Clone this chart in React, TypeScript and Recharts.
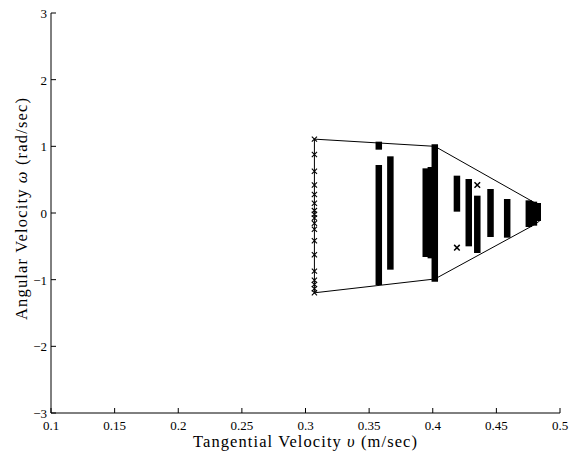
import React from 'react';
import { ScatterChart, Scatter, XAxis, YAxis } from 'recharts';

// Axis ticks
const xTicks = [0.1, 0.15, 0.2, 0.25, 0.3, 0.35, 0.4, 0.45, 0.5];
const yTicks = [-3, -2, -1, 0, 1, 2, 3];

// Dense marker bands (v position, top and bottom of angular velocity)
const barV = [0.3576, 0.3576, 0.3667, 0.3945, 0.3985, 0.4016, 0.419, 0.4283, 0.435, 0.4454, 0.4585, 0.4755, 0.4795, 0.4825];
const barTop = [1.07, 0.72, 0.85, 0.67, 0.69, 1.03, 0.56, 0.51, 0.26, 0.36, 0.21, 0.19, 0.17, 0.15];
const barBottom = [0.95, -1.08, -0.85, -0.66, -0.68, -1.03, 0.02, -0.5, -0.6, -0.36, -0.37, -0.21, -0.19, -0.12];

// Individual markers at v = 0.307
const leftV = 0.307;
const leftW = [1.108, 0.878, 0.627, 0.421, 0.277, 0.146, 0.036, -0.02, -0.075, -0.155, -0.245, -0.415, -0.626, -0.872, -1.008, -1.072, -1.137, -1.197];

// Isolated markers
const extraV = [0.419, 0.435];
const extraW = [-0.52, 0.42];

// Boundary polygon
const hullV = [0.307, 0.4016, 0.48, 0.484, 0.484, 0.478, 0.4016, 0.307, 0.307];
const hullW = [1.108, 1.0, 0.155, 0.1, -0.12, -0.195, -0.99, -1.197, 1.108];

const FONT = '"Liberation Serif", "Times New Roman", serif';

const leftData = leftW.map((w) => ({ v: leftV, w }));
const extraData = extraV.map((v, i) => ({ v, w: extraW[i] }));
const hullData = hullV.map((v, i) => ({ v, w: hullW[i] }));
const bars = barV.map((v, i) => [
  { v, w: barTop[i] },
  { v, w: barBottom[i] },
]);

const fmtNum = (n: number) => {
  const s = String(n);
  return n < 0 ? '\u2212' + s.slice(1) : s;
};

const XTick = (props: any) => {
  const { x, y, payload } = props;
  return (
    <g>
      <line x1={x} x2={x} y1={y} y2={y - 5} stroke="#000" strokeWidth={1} />
      <text x={x} y={y + 17} textAnchor="middle" fontFamily={FONT} fontSize={13} fill="#000">
        {fmtNum(payload.value)}
      </text>
    </g>
  );
};

const YTick = (props: any) => {
  const { x, y, payload } = props;
  return (
    <g>
      <line x1={x} x2={x + 5} y1={y} y2={y} stroke="#000" strokeWidth={1} />
      <text x={x - 4} y={y + 5} textAnchor="end" fontFamily={FONT} fontSize={13} fill="#000">
        {fmtNum(payload.value)}
      </text>
    </g>
  );
};

const Cross = (s: number, sw: number) => (props: any) => {
  const { cx, cy } = props;
  if (cx == null || cy == null) return <g />;
  return (
    <path
      d={`M${cx - s},${cy - s}L${cx + s},${cy + s}M${cx - s},${cy + s}L${cx + s},${cy - s}`}
      stroke="#000"
      strokeWidth={sw}
      fill="none"
    />
  );
};

const Empty = () => <g />;

const XLabel = () => (
  <text x={305} y={447} textAnchor="middle" fontFamily={FONT} fontSize={16.5} fill="#000" textLength={224} lengthAdjust="spacing">
    Tangential Velocity <tspan fontStyle="italic">υ</tspan> (m/sec)
  </text>
);

const YLabel = () => (
  <text transform="rotate(-90)" x={-209} y={27} textAnchor="middle" fontFamily={FONT} fontSize={16.5} fill="#000" textLength={222} lengthAdjust="spacing">
    Angular Velocity <tspan fontStyle="italic">ω</tspan> (rad/sec)
  </text>
);

export default function App() {
  return (
    <div style={{ position: 'absolute', left: 0, top: 0, background: '#fff' }}>
      <ScatterChart width={570} height={454} margin={{ top: 13, right: 10, bottom: 0, left: 0 }}>
        <XAxis
          type="number"
          dataKey="v"
          domain={[0.1, 0.5]}
          ticks={xTicks}
          interval={0}
          tick={<XTick />}
          tickLine={false}
          tickSize={0}
          tickMargin={0}
          height={41}
          axisLine={{ stroke: '#000', strokeWidth: 1 }}
          allowDataOverflow
        />
        <YAxis
          type="number"
          dataKey="w"
          domain={[-3, 3]}
          ticks={yTicks}
          interval={0}
          tick={<YTick />}
          tickLine={false}
          tickSize={0}
          tickMargin={0}
          width={51}
          axisLine={{ stroke: '#000', strokeWidth: 1 }}
          allowDataOverflow
        />
        <Scatter
          data={hullData}
          line={{ stroke: '#000', strokeWidth: 1 }}
          shape={Empty}
          fill="#000"
          isAnimationActive={false}
        />
        {bars.map((d, i) => (
          <Scatter
            key={'bar' + i}
            data={d}
            line={{ stroke: '#000', strokeWidth: 6.5 }}
            shape={Empty}
            fill="#000"
            isAnimationActive={false}
          />
        ))}
        <Scatter data={leftData} shape={Cross(2.6, 1.1)} fill="#000" isAnimationActive={false} />
        <Scatter data={extraData} shape={Cross(2.8, 1.5)} fill="#000" isAnimationActive={false} />
        <XLabel />
        <YLabel />
      </ScatterChart>
    </div>
  );
}
